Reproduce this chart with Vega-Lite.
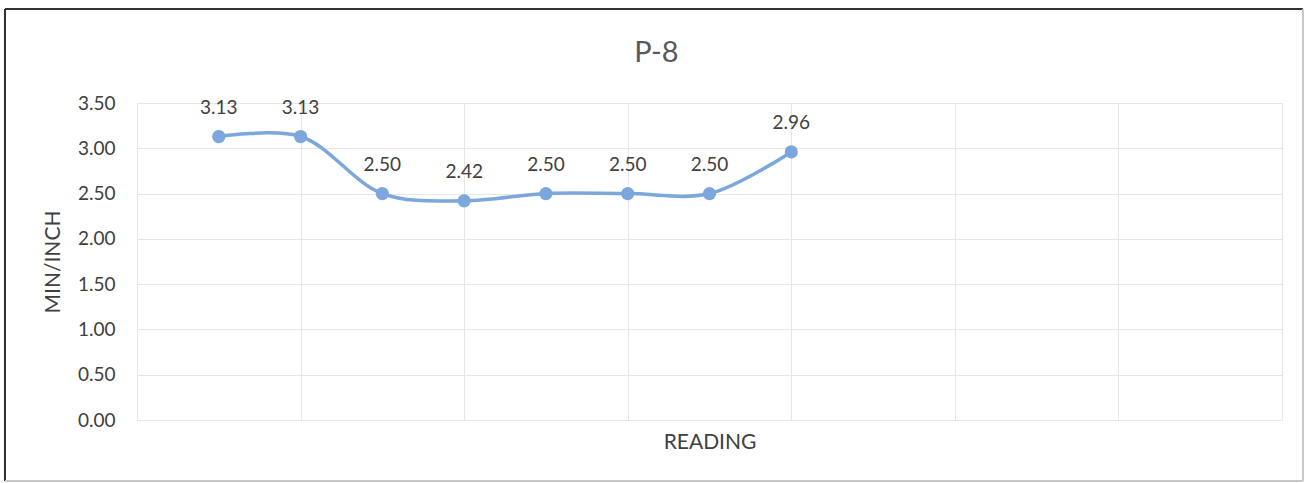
{
  "$schema": "https://vega.github.io/schema/vega-lite/v6.json",
  "autosize": {"type": "none"},
  "padding": {"left": 137, "top": 103, "right": 25, "bottom": 63},
  "width": 1145,
  "height": 317,
  "background": "white",
  "title": {
    "text": "P-8",
    "font": "Lato",
    "fontSize": 29,
    "fontWeight": "normal",
    "color": "#595959",
    "anchor": "middle",
    "frame": "group",
    "baseline": "alphabetic",
    "offset": 0,
    "dy": 83,
    "dx": -53
  },
  "data": {
    "values": [
      {"reading": 1, "value": 3.13},
      {"reading": 2, "value": 3.13},
      {"reading": 3, "value": 2.50},
      {"reading": 4, "value": 2.42},
      {"reading": 5, "value": 2.50},
      {"reading": 6, "value": 2.50},
      {"reading": 7, "value": 2.50},
      {"reading": 8, "value": 2.96}
    ]
  },
  "config": {
    "view": {"stroke": null},
    "font": "Lato",
    "axis": {
      "gridColor": "#e6e6e6",
      "gridWidth": 1,
      "domain": false,
      "ticks": false,
      "labelFont": "Lato",
      "labelFontSize": 19,
      "labelColor": "#404040",
      "titleFont": "Lato",
      "titleFontSize": 21,
      "titleFontWeight": "normal",
      "titleColor": "#404040"
    }
  },
  "layer": [
    {
      "mark": {"type": "line", "interpolate": "catmull-rom", "color": "#7ba7dc", "strokeWidth": 3.5},
      "encoding": {
        "x": {
          "field": "reading",
          "type": "quantitative",
          "scale": {"domain": [0, 14], "nice": false, "zero": false},
          "axis": {
            "title": "READING",
            "values": [0, 2, 4, 6, 8, 10, 12, 14],
            "labels": false,
            "titlePadding": 11
          }
        },
        "y": {
          "field": "value",
          "type": "quantitative",
          "scale": {"domain": [0, 3.5], "nice": false},
          "axis": {
            "title": "MIN/INCH",
            "values": [0, 0.5, 1, 1.5, 2, 2.5, 3, 3.5],
            "format": ".2f",
            "labelPadding": 22,
            "titlePadding": 14
          }
        }
      }
    },
    {
      "mark": {"type": "point", "filled": true, "opacity": 1, "size": 175, "color": "#7ba7dc"},
      "encoding": {
        "x": {"field": "reading", "type": "quantitative"},
        "y": {"field": "value", "type": "quantitative"}
      }
    },
    {
      "mark": {"type": "text", "dy": -29, "fontSize": 19, "color": "#404040", "font": "Lato"},
      "encoding": {
        "x": {"field": "reading", "type": "quantitative"},
        "y": {"field": "value", "type": "quantitative"},
        "text": {"field": "value", "type": "quantitative", "format": ".2f"}
      }
    },
    {
      "mark": {"type": "rule", "color": "#333333", "strokeWidth": 2, "clip": false},
      "encoding": {"x": {"datum": -1.614}, "y": {"datum": -0.673}, "y2": {"datum": 4.538}}
    },
    {
      "mark": {"type": "rule", "color": "#333333", "strokeWidth": 2, "clip": false},
      "encoding": {"y": {"datum": 4.538}, "x": {"datum": -1.614}, "x2": {"datum": 14.256}}
    },
    {
      "mark": {"type": "rule", "color": "#c8c8c8", "strokeWidth": 1, "clip": false},
      "encoding": {"x": {"datum": 14.256}, "y": {"datum": -0.673}, "y2": {"datum": 4.538}}
    },
    {
      "mark": {"type": "rule", "color": "#c8c8c8", "strokeWidth": 1, "clip": false},
      "encoding": {"y": {"datum": -0.673}, "x": {"datum": -1.614}, "x2": {"datum": 14.256}}
    }
  ]
}
